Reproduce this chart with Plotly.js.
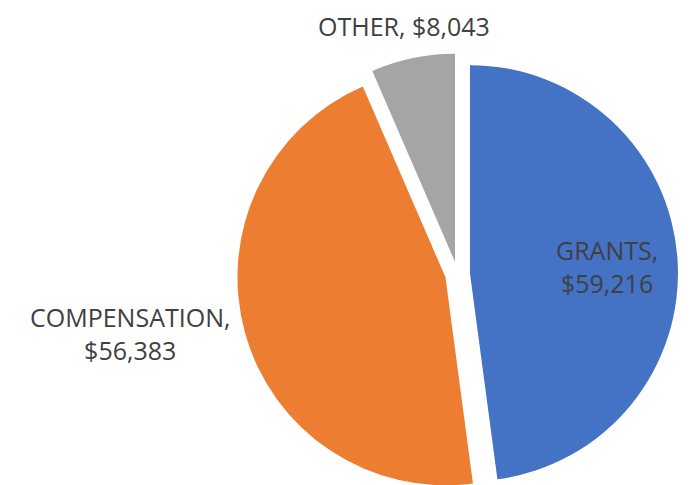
<!DOCTYPE html>
<html>
<head>
<meta charset="utf-8">
<script src="https://cdn.plot.ly/plotly-3.0.1.min.js"></script>
<style>html,body{margin:0;padding:0;background:#fff;overflow:hidden;}#wrap{width:690px;height:485px;overflow:hidden;}#chart{width:690px;height:495px;}</style>
</head>
<body>
<div id="wrap"><div id="chart"></div></div>
<script>
const categories = ['GRANTS', 'COMPENSATION', 'OTHER'];
const values = [59216, 56383, 8043];
const colors = ['#4472C4', '#ED7D31', '#A5A5A5'];
const labelBreaks = ['<br>', '<br>', ' '];

const fmt = v => '$' + v.toLocaleString('en-US');

const trace = {
  type: 'pie',
  labels: categories,
  values: values,
  sort: false,
  direction: 'clockwise',
  rotation: 0,
  pull: [0.06, 0.06, 0.06],
  marker: {colors: colors, line: {width: 0}},
  textinfo: 'none',
  domain: {x: [0.3435, 0.9826], y: [0.001, 0.892]},
  automargin: false,
  hoverinfo: 'none'
};

// label anchor positions (paper fractions)
const labelX = [0.8797, 0.1884, 0.5855];
const labelY = [0.4626, 0.3263, 0.9475];

const annotations = categories.map((c, i) => ({
  xref: 'paper', yref: 'paper',
  x: labelX[i], y: labelY[i],
  xanchor: 'center', yanchor: 'middle',
  showarrow: false,
  text: c + ',' + labelBreaks[i] + fmt(values[i]),
  font: {family: 'Open Sans, sans-serif', size: 25, color: '#404040'}
}));

const layout = {
  width: 690,
  height: 495,
  margin: {l: 0, r: 0, t: 0, b: 0},
  paper_bgcolor: '#ffffff',
  showlegend: false,
  annotations: annotations
};

Plotly.newPlot('chart', [trace], layout, {displayModeBar: false, staticPlot: true});
</script>
</body>
</html>
